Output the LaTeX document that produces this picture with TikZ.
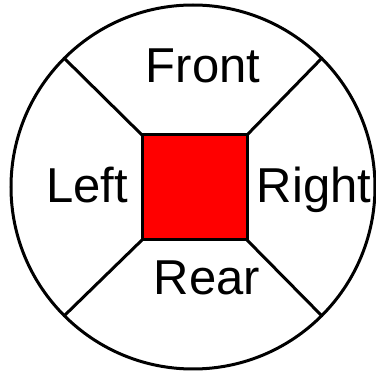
\documentclass[tikz,border=0pt]{standalone}
\usepackage{fontspec}
\setmainfont{Liberation Sans}
\usepackage{xcolor}
\usepackage{tikz}
\usetikzlibrary{positioning}

\begin{document}
\begin{tikzpicture}[x=1pt,y=-1pt,line width=3pt,
    every node/.style={font=\fontsize{49}{54}\selectfont},
    side/.style={anchor=base,inner sep=0pt}]
  \useasboundingbox (0,0) rectangle (376,374);
  \node[circle,draw,inner sep=0pt,outer sep=0pt,minimum size=364pt] (ring) at (193,187) {};
  \node[rectangle,draw,fill=red,inner sep=0pt,outer sep=0pt,minimum size=105pt] (car) at (194.5,187.5) {};
  \draw (car.north west) -- (ring.135);   % front left
  \draw (car.north east) -- (ring.45);    % front right
  \draw (car.south west) -- (ring.225);   % rear left
  \draw (car.south east) -- (ring.315);   % rear right
  \node[side] (front) at (203,83) {Front};
  \node[side] (left)  at (87,203) {Left};
  \node[side] (right) at (314,203) {Right};
  \node[side] (rear)  at (207,295) {Rear};
\end{tikzpicture}
\end{document}
